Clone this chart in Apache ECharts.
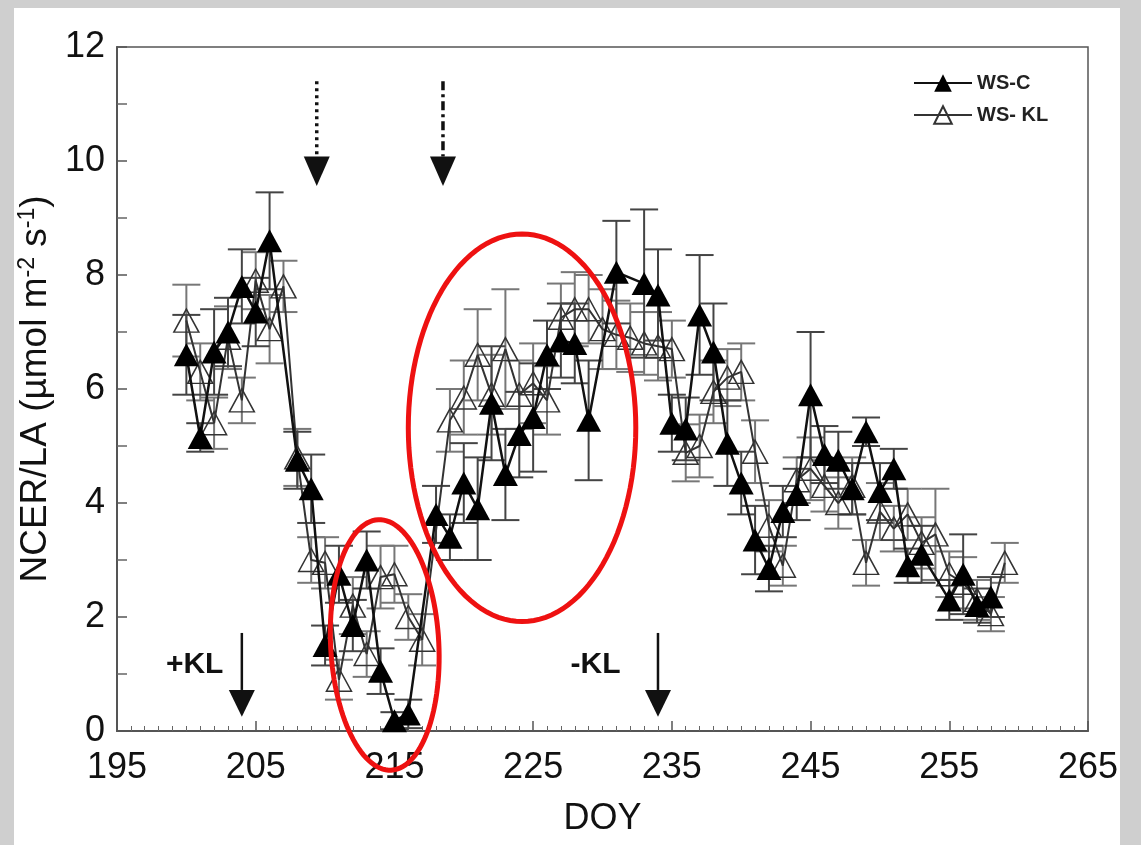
<!DOCTYPE html>
<html><head><meta charset="utf-8">
<script src="https://cdn.jsdelivr.net/npm/echarts@6/dist/echarts.min.js"></script>
<style>
html,body{margin:0;padding:0;width:1141px;height:845px;overflow:hidden;background:#cfcfcf;}
#bgw{position:absolute;left:14px;top:8px;width:1106px;height:837px;background:#fff;}
#c{position:absolute;left:0;top:0;width:1141px;height:845px;}
</style></head><body><div id="bgw"></div><div id="c"></div>
<script>
// ---- data ----
const days = [200,201,202,203,204,205,206,207,208,209,
              210,211,212,213,214,215,216,217,218,219,
              220,221,222,223,224,225,226,227,228,229,
              230,231,232,233,234,235,236,237,238,239,
              240,241,242,243,244,245,246,247,248,249,
              250,251,252,253,254,255,256,257,258,259];
const wsC = [6.6,5.15,6.65,7.0,7.8,7.35,8.6,null,4.75,4.25,
             1.5,2.75,1.85,3.0,1.05,0.18,0.3,null,3.8,3.4,
             4.35,3.9,5.75,4.5,5.2,5.5,6.6,6.85,6.8,5.45,
             null,8.05,null,7.85,7.65,5.4,5.3,7.3,6.65,5.05,
             4.35,3.35,2.85,3.85,4.15,5.9,4.85,4.75,4.25,5.25,
             4.2,4.6,2.9,3.1,null,2.3,2.75,2.2,2.35,null];
const wsCErr = [0.7,0.25,0.75,0.6,0.65,0.6,0.85,null,0.5,0.6,
                0.35,0.5,0.45,0.5,0.4,0.15,0.25,null,0.5,0.4,
                0.7,0.9,1.0,0.8,0.75,0.95,0.6,0.65,0.7,1.05,
                null,0.9,null,1.3,0.8,0.5,0.55,1.05,0.85,0.75,
                0.55,0.6,0.4,0.45,0.45,1.1,0.5,0.5,0.45,0.25,
                0.5,0.35,0.3,0.5,null,0.35,0.7,0.3,0.35,null];
const wsKL = [7.2,6.3,5.4,6.9,5.8,7.9,7.05,7.8,4.8,3.0,
              2.95,0.9,2.2,1.35,2.7,2.75,2.0,1.6,null,5.45,
              5.85,6.6,5.9,6.7,5.9,6.1,5.8,7.25,7.4,7.4,
              7.05,6.95,6.9,6.8,6.75,6.7,4.88,5.0,5.95,6.2,
              6.3,4.9,3.6,2.9,4.4,4.6,4.3,4.0,4.3,2.95,
              3.85,3.55,3.8,3.3,3.45,2.75,2.6,2.3,2.05,2.95];
const wsKLErr = [0.63,0.5,0.45,0.55,0.4,0.5,0.6,0.45,0.5,0.4,
                 0.45,0.35,0.5,0.4,0.55,0.5,0.4,0.45,null,0.55,
                 0.65,0.8,0.7,1.05,0.6,0.7,0.6,0.6,0.65,0.6,
                 0.7,0.6,0.6,0.55,0.6,0.5,0.5,0.55,0.55,0.5,
                 0.5,0.55,0.45,0.35,0.4,0.55,0.45,0.45,0.5,0.4,
                 0.5,0.4,0.45,0.45,0.8,0.4,0.45,0.35,0.3,0.35];
const xTicks = [195,205,215,225,235,245,255,265];
const yTicks = [0,2,4,6,8,10,12];
const seriesNames = ['WS-C','WS- KL'];
const xAxisName = 'DOY';
const yAxisName = 'NCER/LA (µmol m{sup|-2} s{sup|-1})';

// annotations (data coordinates)
const arrowsKL = [{day:204, label:'+KL', labelDay:200.6}, {day:234, label:'-KL', labelDay:229.5}];
const arrowsTop = [{day:209.4, type:'dotted'}, {day:218.5, type:'dashdot'}];
const ellipses = [{cx:214.3, cy:1.51, rx:3.9, ry:2.2, rot:-3}, {cx:224.2, cy:5.32, rx:8.2, ry:3.4, rot:0}];

function pairs(vals){ const out=[]; days.forEach((d,i)=>{ if(vals[i]!=null) out.push([d,vals[i]]); }); return out; }
function errTriples(vals, errs){ const out=[]; days.forEach((d,i)=>{ if(vals[i]!=null && errs[i]!=null) out.push([d,vals[i],errs[i]]); }); return out; }

function errRender(color){
  return function(params, api){
    const x=api.value(0), y=api.value(1), e=api.value(2);
    const top=api.coord([x,y+e]), bot=api.coord([x,y-e]);
    const h=14;
    const st={stroke:color, lineWidth:2};
    return {type:'group', children:[
      {type:'line', shape:{x1:top[0],y1:top[1],x2:bot[0],y2:bot[1]}, style:st},
      {type:'line', shape:{x1:top[0]-h,y1:top[1],x2:top[0]+h,y2:top[1]}, style:st},
      {type:'line', shape:{x1:bot[0]-h,y1:bot[1],x2:bot[0]+h,y2:bot[1]}, style:st}
    ]};
  };
}

const chart = echarts.init(document.getElementById('c'), null, {renderer:'canvas'});
const FONT = 'Liberation Sans, Arial, sans-serif';
chart.setOption({
  backgroundColor:'transparent',
  animation:false,
  grid:{left:117, right:53, top:47, bottom:114, show:true, borderColor:'#555', borderWidth:1.5, backgroundColor:'transparent'},
  legend:{
    orient:'vertical', left:908, top:68, itemWidth:58, itemHeight:22, itemGap:12,
    data:seriesNames,
    textStyle:{fontFamily:FONT, fontSize:20, fontWeight:'bold', color:'#222'}
  },
  xAxis:{
    type:'value', min:xTicks[0], max:xTicks[xTicks.length-1], interval:10,
    name:xAxisName, nameLocation:'middle', nameGap:70,
    nameTextStyle:{fontFamily:FONT, fontSize:36, color:'#111'},
    axisLine:{lineStyle:{color:'#555', width:2}},
    axisTick:{inside:true, length:10, lineStyle:{color:'#555', width:1.5}},
    minorTick:{show:true, splitNumber:10, length:5, lineStyle:{color:'#666', width:1}},
    axisLabel:{fontFamily:FONT, fontSize:36, color:'#111', margin:19},
    splitLine:{show:false}
  },
  yAxis:{
    type:'value', min:yTicks[0], max:yTicks[yTicks.length-1], interval:2,
    name:yAxisName, nameLocation:'middle', nameGap:52, nameRotate:90,
    nameTextStyle:{fontFamily:FONT, fontSize:37, color:'#111',
      rich:{sup:{fontFamily:FONT, fontSize:23, color:'#111', padding:[0,0,15,0]}}},
    axisLine:{lineStyle:{color:'#555', width:2}},
    axisTick:{inside:true, length:10, lineStyle:{color:'#555', width:1.5}},
    minorTick:{show:true, splitNumber:2, length:10, lineStyle:{color:'#666', width:1.5}},
    axisLabel:{fontFamily:FONT, fontSize:36, color:'#111', margin:12},
    splitLine:{show:false}
  },
  series:[
    {type:'custom', name:'errKL', renderItem:errRender('#777'), data:errTriples(wsKL,wsKLErr), z:1, silent:true, encode:{x:0,y:1}},
    {type:'custom', name:'errC', renderItem:errRender('#444'), data:errTriples(wsC,wsCErr), z:1, silent:true, encode:{x:0,y:1}},
    {type:'line', name:seriesNames[1], data:pairs(wsKL), connectNulls:true, z:3,
     symbol:'triangle', symbolSize:[25,23],
     lineStyle:{color:'#333', width:2},
     itemStyle:{color:'rgba(255,255,255,0)', borderColor:'#333', borderWidth:1.5}},
    {type:'line', name:seriesNames[0], data:pairs(wsC), connectNulls:true, z:4,
     symbol:'triangle', symbolSize:[25,23],
     lineStyle:{color:'#111', width:2.5},
     itemStyle:{color:'#000', borderColor:'#000', borderWidth:0}}
  ]
});

function px(d,v){ return chart.convertToPixel({gridIndex:0},[d,v]); }
const g=[];
arrowsKL.forEach(a=>{
  const p1=px(a.day,1.72), p2=px(a.day,0.72), p3=px(a.day,0.25);
  g.push({type:'line', shape:{x1:p1[0],y1:p1[1],x2:p2[0],y2:p2[1]}, style:{stroke:'#111', lineWidth:2.5}});
  g.push({type:'polygon', shape:{points:[[p2[0]-13,p2[1]],[p2[0]+13,p2[1]],[p3[0],p3[1]]]}, style:{fill:'#111'}});
  const t=px(a.labelDay,1.16);
  g.push({type:'text', x:t[0], y:t[1], style:{text:a.label, font:'bold 30px '+FONT, fill:'#111', align:'center', verticalAlign:'middle'}});
});
arrowsTop.forEach(a=>{
  const p1=px(a.day,11.4), p2=px(a.day,10.08), p3=px(a.day,9.56);
  const dash = a.type==='dotted' ? [3,4] : [9,4,3,4];
  g.push({type:'line', shape:{x1:p1[0],y1:p1[1],x2:p2[0],y2:p2[1]}, style:{stroke:'#111', lineWidth:3.5, lineDash:dash}});
  g.push({type:'polygon', shape:{points:[[p2[0]-13,p2[1]],[p2[0]+13,p2[1]],[p3[0],p3[1]]]}, style:{fill:'#111'}});
});
ellipses.forEach(e=>{
  const c=px(e.cx,e.cy), ex=px(e.cx+e.rx,e.cy), ey=px(e.cx,e.cy+e.ry);
  const rx=Math.abs(ex[0]-c[0]), ry=Math.abs(c[1]-ey[1]);
  const r=e.rot*Math.PI/180; const pts=[];
  for(let i=0;i<120;i++){ const t=i/120*2*Math.PI; const x=rx*Math.cos(t), y=ry*Math.sin(t);
    pts.push([c[0]+x*Math.cos(r)-y*Math.sin(r), c[1]+x*Math.sin(r)+y*Math.cos(r)]); }
  g.push({type:'polygon', z:100, shape:{points:pts}, style:{fill:'none', stroke:'#ee1111', lineWidth:5}});
});
chart.setOption({graphic:g});
</script></body></html>
